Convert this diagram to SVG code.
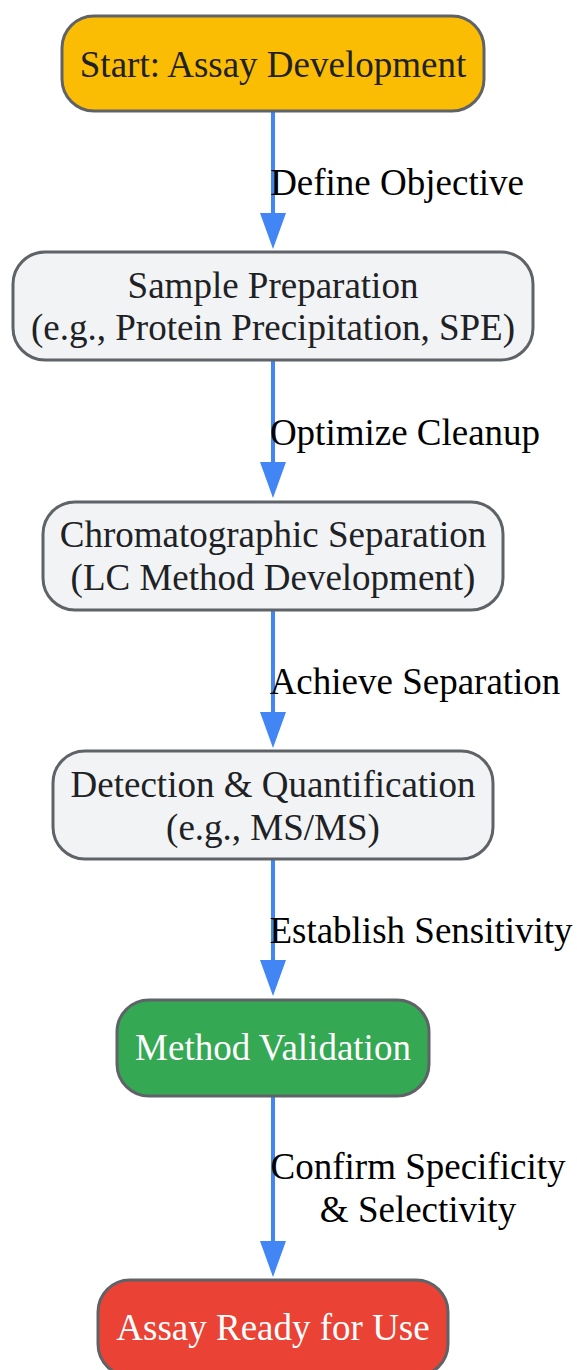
<svg xmlns="http://www.w3.org/2000/svg" width="577" height="1370" viewBox="0 0 577 1370">
<style>
.node rect{stroke:#5f6368;stroke-width:3}
.nt{font-family:"Liberation Serif","Times New Roman",serif;font-size:37px;text-anchor:middle;fill:#202124}
.wt{fill:#ffffff}
.el{font-family:"Liberation Serif","Times New Roman",serif;font-size:37px;text-anchor:middle;fill:#000000}
.edge{stroke:#4285f4;stroke-width:4;fill:none;marker-end:url(#arr)}
</style>
<defs>
<marker id="arr" markerUnits="userSpaceOnUse" viewBox="0 0 36 26" markerWidth="36" markerHeight="26" refX="26" refY="13" orient="auto">
<path d="M0,0 L36,13 L0,26 z" fill="#4285f4"/>
</marker>
</defs>
<rect width="577" height="1370" fill="#ffffff"/>
<g id="connectors">
<path class="edge" d="M273,112 L273,239"/>
<path class="edge" d="M273,361 L273,488"/>
<path class="edge" d="M273,611 L273,738"/>
<path class="edge" d="M273,860 L273,986"/>
<path class="edge" d="M273,1097 L273,1267"/>
<text class="el" x="397" y="195">Define Objective</text>
<text class="el" x="405" y="445">Optimize Cleanup</text>
<text class="el" x="415" y="694">Achieve Separation</text>
<text class="el" x="421" y="943">Establish Sensitivity</text>
<text class="el" x="418" y="1179">Confirm Specificity</text>
<text class="el" x="418" y="1222">&amp; Selectivity</text>
</g>
<g id="n1" class="node">
<rect x="62" y="16" width="422" height="95" rx="32" fill="#fbbc04"/>
<text class="nt" x="273" y="77">Start: Assay Development</text>
</g>
<g id="n2" class="node">
<rect x="13" y="252" width="520" height="108" rx="32" fill="#f1f3f4"/>
<text class="nt" x="273" y="298">Sample Preparation</text>
<text class="nt" x="273" y="340">(e.g., Protein Precipitation, SPE)</text>
</g>
<g id="n3" class="node">
<rect x="43" y="502" width="460" height="108" rx="32" fill="#f1f3f4"/>
<text class="nt" x="273" y="547">Chromatographic Separation</text>
<text class="nt" x="273" y="590">(LC Method Development)</text>
</g>
<g id="n4" class="node">
<rect x="53" y="751" width="440" height="108" rx="32" fill="#f1f3f4"/>
<text class="nt" x="273" y="797">Detection &amp; Quantification</text>
<text class="nt" x="273" y="840">(e.g., MS/MS)</text>
</g>
<g id="n5" class="node">
<rect x="117" y="1000" width="312" height="96" rx="32" fill="#34a853"/>
<text class="nt wt" x="273" y="1060">Method Validation</text>
</g>
<g id="n6" class="node">
<rect x="98" y="1280" width="350" height="96" rx="32" fill="#ea4335"/>
<text class="nt wt" x="273" y="1340">Assay Ready for Use</text>
</g>
</svg>
